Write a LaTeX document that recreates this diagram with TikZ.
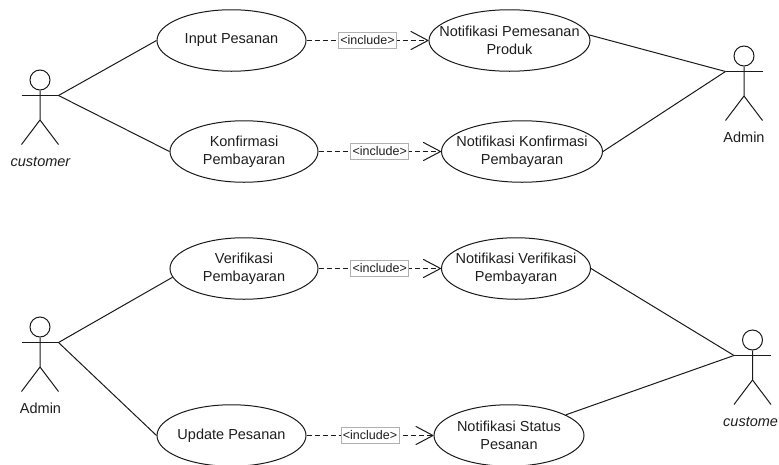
\documentclass[tikz,border=0pt]{standalone}
\usepackage{fontspec}
\setmainfont{Liberation Sans}
\usetikzlibrary{shapes.geometric,arrows.meta}
\definecolor{ink}{HTML}{1A1A1A}
\definecolor{txt}{HTML}{1E1E1E}
\definecolor{lblline}{HTML}{B0B0B0}
\tikzset{
  uc/.style={draw=ink,line width=1pt,shape=ellipse,inner sep=0pt,minimum height=61.5pt},
  uctext/.style={text=txt,align=center,inner sep=0pt,font=\fontsize{14.5}{18}\selectfont},
  acttext/.style={text=txt,inner sep=0pt,font=\fontsize{14.5}{18}\selectfont},
  head/.style={draw=ink,line width=1pt,shape=circle,inner sep=0pt,minimum size=20pt},
  stick/.style={draw=ink,line width=1pt},
  assoc/.style={draw=ink,line width=1pt},
  incl/.style={draw=ink,line width=1pt,dash pattern=on 5pt off 3pt,
    -{Straight Barb[length=17pt,width=18pt,line width=1pt,round=false]}},
  incllabel/.style={draw=lblline,solid,line width=0.8pt,fill=white,text=txt,inner sep=0pt,
    minimum width=58pt,minimum height=16pt,font=\fontsize{12.5}{14}\selectfont},
}
\newcommand{\usecase}[5]{%
  \node[uc,minimum width=#4pt] (#1) at (#2,#3) {};
  \node[uctext] (#1t) at (#2,#3) {#5};
}
\newcommand{\stickman}[3]{%
  \node[head] (#1h) at (#2,#3) {};
  \coordinate (#1l) at (#2-18.5,#3+15.5);
  \coordinate (#1r) at (#2+18.5,#3+15.5);
  \coordinate (#1c) at (#2,#3+15.5);
  \coordinate (#1w) at (#2,#3+40);
  \coordinate (#1fl) at (#2-18.5,#3+64.5);
  \coordinate (#1fr) at (#2+18.5,#3+64.5);
  \draw[stick] (#1h) -- (#1w) -- (#1fl);
  \draw[stick] (#1w) -- (#1fr);
  \draw[stick] (#1l) -- (#1r);
}
\begin{document}
\begin{tikzpicture}[x=1pt,y=-1pt]
\clip (0,0) rectangle (779,464);
\fill[white] (0,0) rectangle (779,464);

\usecase{a}{231.5}{40.5}{149}{Input Pesanan}
\usecase{b}{244}{151.5}{148}{Konfirmasi\\Pembayaran}
\usecase{c}{509.5}{40.5}{161}{Notifikasi Pemesanan\\Produk}
\usecase{d}{522}{151.5}{161}{Notifikasi Konfirmasi\\Pembayaran}
\usecase{e}{244}{268.5}{148}{Verifikasi\\Pembayaran}
\usecase{f}{516}{268.5}{149}{Notifikasi Verifikasi\\Pembayaran}
\usecase{g}{231.5}{435.5}{149}{Update Pesanan}
\usecase{h}{509}{435.5}{150}{Notifikasi Status\\Pesanan}

\stickman{p}{40}{80}
\stickman{q}{744}{56}
\stickman{s}{40}{327}
\stickman{u}{752.5}{340}

\node[acttext,font=\fontsize{14.5}{18}\selectfont\itshape] (pn) at (40.5,162) {customer};
\node[acttext] (qn) at (744,137) {Admin};
\node[acttext] (sn) at (40.5,408) {Admin};
\node[acttext,font=\fontsize{14.5}{18}\selectfont\itshape,anchor=west] (un) at (723,421.5) {custome};

\draw[assoc] (pr) -- (a.west);
\draw[assoc] (pr) -- (b.west);
\draw[assoc] (c.4) -- (ql);
\draw[assoc] (d.east) -- (ql);
\draw[assoc] (sr) -- (e.187);
\draw[assoc] (sr) -- (g.west);
\draw[assoc] (f.east) -- (ul);
\draw[assoc] (h.20) -- (ul);

\draw[incl] (a.east) -- node[incllabel] (l1) {<include>} (c.west);
\draw[incl] (b.east) -- node[incllabel] (l2) {<include>} (d.west);
\draw[incl] (e.east) -- node[incllabel] (l3) {<include>} (f.west);
\draw[incl] (g.east) -- node[incllabel] (l4) {<include>} (h.west);
\end{tikzpicture}
\end{document}
